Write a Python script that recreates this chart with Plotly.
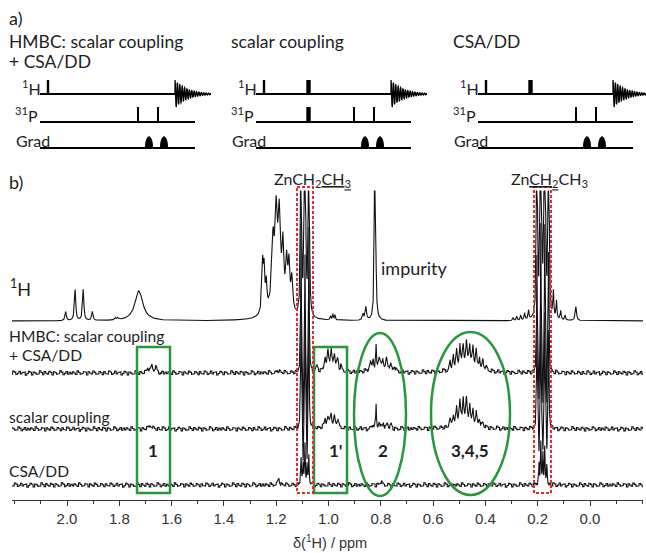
import numpy as np
import plotly.graph_objects as go

W, H = 646, 553

# ------------------------------------------------------------------ data
TICK_PPM = [2.0, 1.8, 1.6, 1.4, 1.2, 1.0, 0.8, 0.6, 0.4, 0.2, 0.0]
TICK_TEXT = ["2.0", "1.8", "1.6", "1.4", "1.2", "1.0", "0.8", "0.6", "0.4", "0.2", "0.0"]

# 1H spectrum: line positions (ppm), intensities (a.u.), half widths (ppm)
H1_POS = [2.005, 1.969, 1.938, 1.903, 1.815, 1.806, 1.725,
          1.252, 1.246, 1.238, 1.212, 1.200, 1.188, 1.174, 1.160, 1.151, 1.140, 1.195,
          1.105, 1.090, 1.075, 0.992, 0.983, 0.975, 0.868, 0.857, 0.822,
          0.294, 0.280, 0.265, 0.250, 0.235, 0.203, 0.188, 0.173, 0.158,
          0.140, 0.128, 0.112, 0.095, 0.054]
H1_INT = [9, 31, 31, 9, 2, 2, 30,
          50, 38, 26, 58, 76, 76, 55, 44, 44, 33, 28,
          400, 600, 400, 4, 6, 5, 6, 13, 500,
          3, 4, 5, 7, 9, 400, 700, 700, 400,
          26, 18, 9, 5, 14]
H1_HW = [0.003, 0.003, 0.003, 0.003, 0.003, 0.003, 0.018,
         0.0035, 0.003, 0.003, 0.005, 0.005, 0.005, 0.004, 0.004, 0.004, 0.004, 0.025,
         0.0015, 0.0015, 0.0015, 0.002, 0.002, 0.002, 0.003, 0.003, 0.0015,
         0.002, 0.002, 0.002, 0.002, 0.002, 0.0015, 0.0015, 0.0015, 0.0015,
         0.002, 0.002, 0.002, 0.002, 0.003]

# HMBC (scalar coupling + CSA/DD)
HMBC_POS = [1.690, 1.675, 1.660, 1.190,
            1.105, 1.097, 1.090, 1.082, 1.075,
            1.044, 1.013, 1.002, 0.990, 0.977, 0.965, 0.952, 0.990,
            0.840, 0.829, 0.818, 0.806, 0.792, 0.778, 0.763, 0.748, 0.800,
            0.535, 0.5225, 0.510, 0.4975, 0.485, 0.4725, 0.460, 0.4475, 0.435, 0.4225, 0.410, 0.3975, 0.470,
            0.203, 0.195, 0.188, 0.180, 0.173, 0.165, 0.158]
HMBC_INT = [5, 8, 5, 3,
            150, -60, 120, -60, 150,
            5, 12, 15, 16, 14, 10, 5, 6,
            8, 9, 22, 11, 8, 10, 7, 5, 5,
            8, 13, 17, 19, 20, 20, 20, 19, 16, 12, 9, 6, 10,
            120, -40, 150, -40, 150, -40, 120]
HMBC_HW = [0.004, 0.004, 0.004, 0.004,
           0.0015, 0.0015, 0.0015, 0.0015, 0.0015,
           0.004, 0.003, 0.003, 0.003, 0.003, 0.003, 0.003, 0.025,
           0.003, 0.003, 0.0015, 0.003, 0.003, 0.003, 0.003, 0.003, 0.035,
           0.0025, 0.0025, 0.0025, 0.0025, 0.0025, 0.0025, 0.0025, 0.0025, 0.0025, 0.0025, 0.0025, 0.0025, 0.04,
           0.0015, 0.0015, 0.0015, 0.0015, 0.0015, 0.0015, 0.0015]

# scalar coupling only
SC_POS = [1.680,
          1.105, 1.097, 1.090, 1.082, 1.075,
          1.013, 1.002, 0.990, 0.977, 0.965, 0.990,
          0.829, 0.818, 0.806, 0.790, 0.775, 0.760,
          0.535, 0.5225, 0.510, 0.4975, 0.485, 0.4725, 0.460, 0.4475, 0.435, 0.4225, 0.410, 0.480,
          0.203, 0.195, 0.188, 0.180, 0.173, 0.165, 0.158]
SC_INT = [4,
          120, -40, 100, -40, 120,
          7, 9, 10, 9, 7, 4,
          5, 24, 7, 5, 6, 4,
          6, 11, 15, 21, 24, 21, 17, 15, 12, 8, 5, 9,
          100, -30, 120, -30, 120, -30, 100]
SC_HW = [0.006,
         0.0015, 0.0015, 0.0015, 0.0015, 0.0015,
         0.003, 0.003, 0.003, 0.003, 0.003, 0.025,
         0.003, 0.0015, 0.003, 0.003, 0.003, 0.003,
         0.0025, 0.0025, 0.0025, 0.0025, 0.0025, 0.0025, 0.0025, 0.0025, 0.0025, 0.0025, 0.0025, 0.035,
         0.0015, 0.0015, 0.0015, 0.0015, 0.0015, 0.0015, 0.0015]

# CSA/DD only
CSA_POS = [1.190, 1.105, 1.097, 1.090, 1.082, 1.075, 0.800,
           0.195, 0.188, 0.180, 0.173, 0.165]
CSA_INT = [6, 28, 20, 42, 20, 28, 3,
           22, 40, 30, 38, 18]
CSA_HW = [0.004, 0.0015, 0.0015, 0.0015, 0.0015, 0.0015, 0.005,
          0.0015, 0.0015, 0.0015, 0.0015, 0.0015]

# baseline noise texture (a.u.)
NOISE = [0.8, -1.2, 1.5, -0.4, -1.8, 0.9, 2.1, -0.7, -1.4, 0.3, 1.2, -2.0, 0.6, 1.7, -1.1,
         -0.2, 1.4, -1.6, 0.5, 2.2, -0.9, -1.3, 0.1, 1.0, -1.9, 0.7, 1.6, -0.5, -2.1, 1.1,
         0.4, -1.0, 1.8, -0.3, -1.5, 0.9, 2.0, -1.2, -0.6, 1.3, -1.7, 0.2, 1.5, -0.8, -1.4,
         0.6, 1.9, -1.1, -0.1, 1.2, -2.0, 0.8, 1.4, -0.6, -1.3, 0.5, 2.1, -1.5, 0.0, 1.1, -0.9]

REGION_LABELS = ["1", "1'", "2", "3,4,5"]
REGION_PPM = [1.671, 0.975, 0.79, 0.459]

SEQ_TITLES = ["HMBC: scalar coupling", "scalar coupling", "CSA/DD"]
# pulse timings (schematic units from start of each sequence)
H_PULSES = [[(8, "thin")], [(8, "thin"), (52.5, "thick")], [(8, "thin"), (52.5, "thick")]]
P_PULSES = [[(98, "thin"), (118, "thin")],
            [(52.5, "thick"), (98, "thin"), (118, "thin")],
            [(98, "thin"), (118, "thin")]]
GRADS = [[109, 124], [109, 124], [109, 124]]

# ------------------------------------------------------------------ layout helpers
PX_PER_PPM = 261.5
PX_ZERO = 590.0


def ppm_of(px):
    return (PX_ZERO - px) / PX_PER_PPM


def xp(px):
    return px / W


ppm = np.arange(-0.21, 2.215, 0.0004)


def spectrum(pos, inten, hw):
    s = np.zeros_like(ppm)
    for p, a, w in zip(pos, inten, hw):
        s += a / (1.0 + ((ppm - p) / w) ** 2)
    return s


noise_base = np.resize(np.repeat(np.array(NOISE), 15), ppm.size)

fig = go.Figure()

specs = [
    (H1_POS, H1_INT, H1_HW, 321, 130, 0.0, 0),
    (HMBC_POS, HMBC_INT, HMBC_HW, 373, 150, 1.0, 0),
    (SC_POS, SC_INT, SC_HW, 429, 150, 1.0, 400),
    (CSA_POS, CSA_INT, CSA_HW, 485, 60, 1.0, 900),
]
for pos, inten, hw, base, cap, namp, roll in specs:
    s = spectrum(pos, inten, hw) + namp * np.roll(noise_base, roll)
    s = np.minimum(s, cap)
    fig.add_trace(go.Scatter(x=ppm, y=base - s, mode="lines",
                             line=dict(color="#111111", width=1.1),
                             hoverinfo="skip", showlegend=False))

shapes = []
GREEN = "rgb(40,150,60)"
RED = "rgb(230,45,40)"

# green boxes / ellipses (ppm x, pixel-row y)
shapes.append(dict(type="rect", xref="x", yref="y", x0=ppm_of(137), x1=ppm_of(170), y0=347, y1=493,
                   line=dict(color=GREEN, width=2.5)))
shapes.append(dict(type="rect", xref="x", yref="y", x0=ppm_of(314), x1=ppm_of(347), y0=347, y1=493,
                   line=dict(color=GREEN, width=2.5)))
shapes.append(dict(type="circle", xref="x", yref="y", x0=ppm_of(354), x1=ppm_of(406), y0=333, y1=496,
                   line=dict(color=GREEN, width=2.5)))
shapes.append(dict(type="circle", xref="x", yref="y", x0=ppm_of(431), x1=ppm_of(510), y0=332, y1=495,
                   line=dict(color=GREEN, width=2.5)))
# red dashed rectangles
for a, b in [(297, 313), (534, 551)]:
    shapes.append(dict(type="rect", xref="x", yref="y", x0=ppm_of(a), x1=ppm_of(b), y0=187, y1=493,
                       line=dict(color=RED, width=2, dash="3px,2px")))

# pulse sequences (paper x, pixel-row y)
SEQ_X0 = [40, 256, 478]
Y_H, Y_P, Y_G = 94, 122, 148
LW = 1.8
for k, x0 in enumerate(SEQ_X0):
    shapes.append(dict(type="line", xref="paper", yref="y", x0=xp(x0), x1=xp(x0 + 135), y0=Y_H, y1=Y_H,
                       line=dict(color="black", width=LW)))
    for yy in (Y_P, Y_G):
        shapes.append(dict(type="line", xref="paper", yref="y", x0=xp(x0), x1=xp(x0 + 155), y0=yy, y1=yy,
                           line=dict(color="black", width=LW)))
    for t, kind in H_PULSES[k]:
        w = 1.2 if kind == "thin" else 2.2
        shapes.append(dict(type="rect", xref="paper", yref="y", x0=xp(x0 + t - w), x1=xp(x0 + t + w),
                           y0=Y_H - 14, y1=Y_H, fillcolor="black", line=dict(width=0)))
    for t, kind in P_PULSES[k]:
        w = 1.0 if kind == "thin" else 2.2
        shapes.append(dict(type="rect", xref="paper", yref="y", x0=xp(x0 + t - w), x1=xp(x0 + t + w),
                           y0=Y_P - 15, y1=Y_P, fillcolor="black", line=dict(width=0)))
    for c in GRADS[k]:
        a, b = x0 + c - 3.6, x0 + c + 3.6
        path = (f"M {xp(a)},{Y_G} C {xp(a + 0.3)},{Y_G - 15} {xp(b - 0.3)},{Y_G - 15} {xp(b)},{Y_G} Z")
        shapes.append(dict(type="path", xref="paper", yref="y", path=path, fillcolor="black",
                           line=dict(color="black", width=1)))
    # FID glyph
    t = np.linspace(0, 36, 260)
    env = 14 * np.exp(-t / 12.0)
    yy = Y_H - env * np.cos(2 * np.pi * t / 2.4)
    pts = [f"{xp(x0 + 135 + ti):.5f},{yi:.2f}" for ti, yi in zip(t, yy)]
    path = f"M {xp(x0 + 135):.5f},{Y_H} L " + " L ".join(pts)
    shapes.append(dict(type="path", xref="paper", yref="y", path=path,
                       line=dict(color="black", width=1.3)))

annotations = []
TXT = "#1e1e1e"
SANS = "Lato"


def ann(text, x, y, size, xanchor="left", color=TXT, family=SANS):
    annotations.append(dict(text=text, xref="paper", yref="y", x=xp(x), y=y, xanchor=xanchor,
                            yanchor="middle", showarrow=False,
                            font=dict(family=family, size=size, color=color)))


ann("a)", 7, 18, 18)
ann("b)", 7, 182, 18)
ann(SEQ_TITLES[0], 7, 41, 17.5)
ann("+ CSA/DD", 7, 61, 17.5)
ann(SEQ_TITLES[1], 229, 41, 17.5)
ann(SEQ_TITLES[2], 451, 41, 17.5)

for k, x0 in enumerate(SEQ_X0):
    ann("<sup>1</sup>H", x0 + 3, 87, 16, xanchor="right")
    ann("<sup>31</sup>P", x0 + 0, 114, 16, xanchor="right")
    ann("Grad", x0 - 26, 140, 16)

ann("ZnCH<sub>2</sub><u>CH<sub>3</sub></u>", 312, 179, 16, xanchor="center")
ann("Zn<u>CH<sub>2</sub></u>CH<sub>3</sub>", 549, 179, 16, xanchor="center")
ann("impurity", 379, 268, 18)
ann("<sup>1</sup>H", 8, 288, 18)
ann("HMBC: scalar coupling", 7, 336, 15.6)
ann("+ CSA/DD", 7, 355, 15.6)
ann("scalar coupling", 7, 417, 15.6)
ann("CSA/DD", 7, 471, 15.6)
ann("δ(<sup>1</sup>H) / ppm", 330, 542, 14.5, xanchor="center", color="#333333", family="Liberation Sans")

for lab, p in zip(REGION_LABELS, REGION_PPM):
    annotations.append(dict(text=f"<b>{lab}</b>", xref="x", yref="y", x=p, y=450, xanchor="center",
                            yanchor="middle", showarrow=False,
                            font=dict(family=SANS, size=17, color=TXT)))

fig.update_layout(
    width=W, height=H,
    margin=dict(l=0, r=0, t=0, b=0),
    paper_bgcolor="white", plot_bgcolor="rgba(0,0,0,0)",
    shapes=shapes, annotations=annotations,
    xaxis=dict(domain=[12 / W, 643 / W], range=[ppm_of(12), ppm_of(643)],
               anchor="free", position=1 - 500 / H,
               showline=True, linecolor="#333333", linewidth=1.3,
               showgrid=False, zeroline=False,
               tickmode="array", tickvals=TICK_PPM, ticktext=TICK_TEXT,
               ticks="outside", ticklen=5, tickwidth=1.2, tickcolor="#333333",
               minor=dict(dtick=0.1, tick0=0, ticks="outside", ticklen=3, tickwidth=1, tickcolor="#333333"),
               tickfont=dict(family="Liberation Sans", size=15, color="#333333")),
    yaxis=dict(domain=[0, 1], range=[H, 0], visible=False, fixedrange=True),
    showlegend=False,
)

fig.write_html("out.html", config={"displayModeBar": False},
               post_script="document.body.style.margin='0';")
